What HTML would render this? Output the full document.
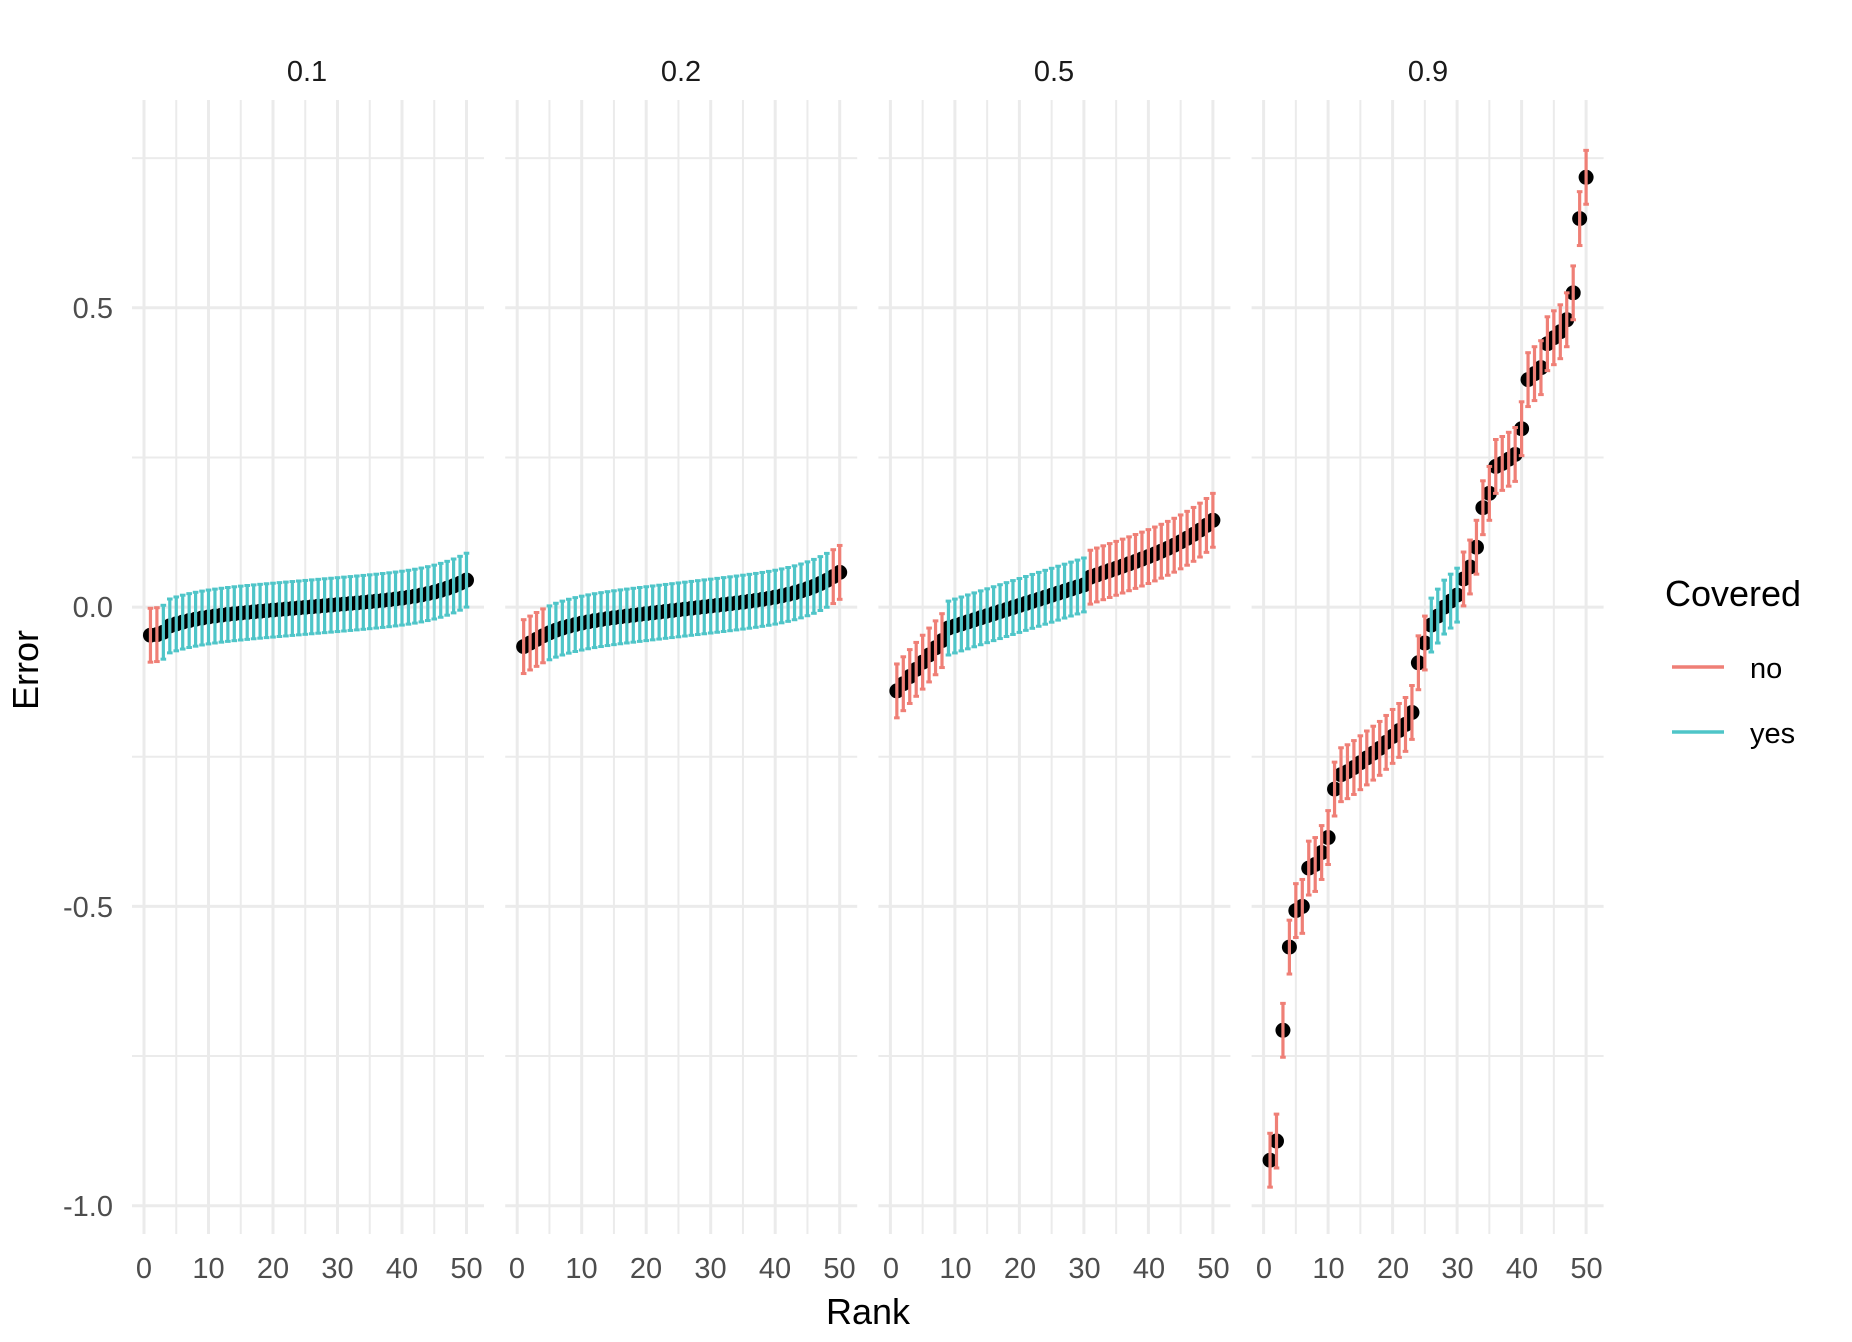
<!DOCTYPE html>
<html><head><meta charset="utf-8"><style>
html,body{margin:0;padding:0;background:#fff;}
svg{display:block;font-family:"Liberation Sans",sans-serif;}
</style></head><body>
<svg id="s" width="1852" height="1342" viewBox="0 0 1852 1342" xmlns="http://www.w3.org/2000/svg">
<g id="grid"></g>
<g id="data"></g>
<g font-size="29" fill="#1a1a1a" text-anchor="middle">
<text x="307" y="81">0.1</text><text x="681" y="81">0.2</text><text x="1054" y="81">0.5</text><text x="1428" y="81">0.9</text>
</g>
<g font-size="29" fill="#4d4d4d" text-anchor="end">
<text x="113" y="318">0.5</text><text x="113" y="617">0.0</text><text x="113" y="917">-0.5</text><text x="113" y="1216">-1.0</text>
</g>
<g font-size="29" fill="#4d4d4d" text-anchor="middle">
<text x="144" y="1278">0</text><text x="208.5" y="1278">10</text><text x="273" y="1278">20</text><text x="337.5" y="1278">30</text><text x="402" y="1278">40</text><text x="466.5" y="1278">50</text>
<text x="517" y="1278">0</text><text x="581.5" y="1278">10</text><text x="646" y="1278">20</text><text x="710.5" y="1278">30</text><text x="775" y="1278">40</text><text x="839.5" y="1278">50</text>
<text x="891" y="1278">0</text><text x="955.5" y="1278">10</text><text x="1020" y="1278">20</text><text x="1084.5" y="1278">30</text><text x="1149" y="1278">40</text><text x="1213.5" y="1278">50</text>
<text x="1264" y="1278">0</text><text x="1328.5" y="1278">10</text><text x="1393" y="1278">20</text><text x="1457.5" y="1278">30</text><text x="1522" y="1278">40</text><text x="1586.5" y="1278">50</text>
</g>
<text x="868" y="1324" font-size="36" fill="#000" text-anchor="middle">Rank</text>
<text transform="translate(38,670) rotate(-90)" font-size="36" fill="#000" text-anchor="middle">Error</text>
<text x="1665" y="606" font-size="36" fill="#000">Covered</text>
<line x1="1672" y1="667" x2="1724" y2="667" stroke="#ef7f76" stroke-width="3.5"/>
<line x1="1672" y1="732" x2="1724" y2="732" stroke="#4fc5c8" stroke-width="3.5"/>
<text x="1750" y="678" font-size="29" fill="#000">no</text>
<text x="1750" y="743" font-size="29" fill="#000">yes</text>
</svg>
<script>
var NS="http://www.w3.org/2000/svg";
function el(p,t,a){var e=document.createElementNS(NS,t);for(var k in a)e.setAttribute(k,a[k]);p.appendChild(e);return e;}
var grid=document.getElementById('grid'),data=document.getElementById('data');
var off=373.2, x0=144, ux=6.45;
function Y(v){return 607.1-v*598.6;}
for(var p=0;p<4;p++){
 var L=132+p*off,R=L+352;
 for(var v=-1;v<=0.76;v+=0.25){var major=Math.abs(v*2-Math.round(v*2))<1e-6;
  el(grid,'line',{x1:L,x2:R,y1:Y(v),y2:Y(v),stroke:'#ebebeb','stroke-width':major?3:2});}
 for(var r=0;r<=50;r+=5){var X=x0+p*off+r*ux;
  el(grid,'line',{x1:X,x2:X,y1:100,y2:1234,stroke:'#ebebeb','stroke-width':r%10==0?3:2});}
}
function curve(s,o,i){var t=(i-25.5)/24.5;return o+s*(0.5*t+0.5*Math.pow(t,5));}
var p4=[-0.924,-0.892,-0.707,-0.568,-0.507,-0.50,-0.436,-0.43,-0.41,-0.385,-0.304,-0.28,-0.275,-0.268,-0.26,-0.252,-0.244,-0.236,-0.226,-0.216,-0.206,-0.196,-0.176,-0.093,-0.06,-0.03,-0.015,0.0,0.01,0.02,0.047,0.067,0.1,0.166,0.19,0.235,0.24,0.247,0.255,0.298,0.38,0.39,0.40,0.44,0.45,0.46,0.48,0.525,0.649,0.718];
var series=[[],[],[],p4];
for(var i=1;i<=50;i++){
 var v1=curve(0.045,0,i); if(i<=2) v1=-0.047+(i-1)*0.001; if(i==3) v1=-0.042;
 series[0].push(v1);
 var v2=curve(0.062,-0.004,i); if(i<=4) v2=-0.066+(i-1)*0.006; if(i==5) v2=-0.043;
 series[1].push(v2);
 var v3;
 if(i<=8) v3=-0.14+(i-1)*0.012;
 else if(i<=30) v3=-0.035+(i-9)*(0.072/21);
 else {var t=(i-31)/19; v3=0.05+0.07*t+0.025*Math.pow(t,4);}
 series[2].push(v3);}
var hw=0.045;
for(var p=0;p<4;p++){for(var i=1;i<=50;i++){
 var v=series[p][i-1],X=x0+p*off+i*ux;
 el(data,'circle',{cx:X,cy:Y(v),r:7.5,fill:'#000'});
}
for(var i=1;i<=50;i++){
 var v=series[p][i-1],X=x0+p*off+i*ux;
 var c=(v-hw<=0&&v+hw>=0)?'#4fc5c8':'#ef7f76';
 var a=Y(v+hw),b=Y(v-hw);
 el(data,'line',{x1:X,x2:X,y1:a,y2:b,stroke:c,'stroke-width':3.2});
 el(data,'line',{x1:X-2.8,x2:X+2.8,y1:a,y2:a,stroke:c,'stroke-width':3});
 el(data,'line',{x1:X-2.8,x2:X+2.8,y1:b,y2:b,stroke:c,'stroke-width':3});
}}
</script>
</body></html>
